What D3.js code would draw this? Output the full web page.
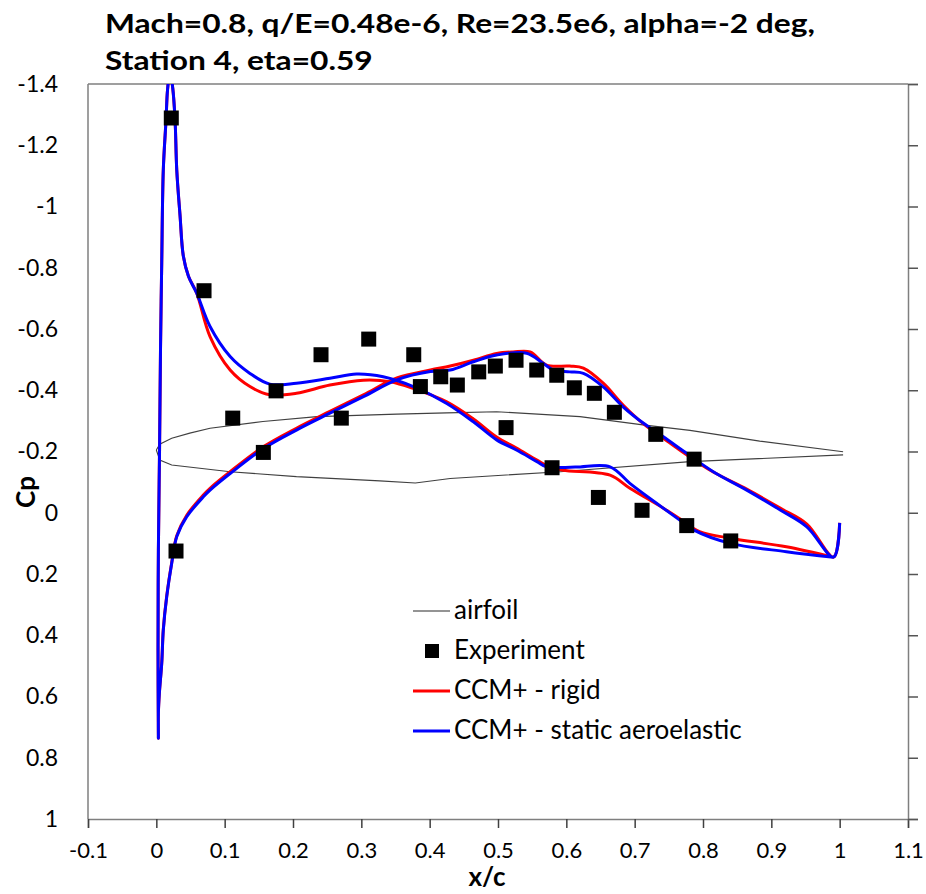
<!DOCTYPE html>
<html>
<head>
<meta charset="utf-8">
<script src="https://cdn.jsdelivr.net/npm/d3@7"></script>
<style>
  html, body { margin: 0; padding: 0; background: #fff; }
  svg { display: block; }
  text { font-family: Lato, "Open Sans", sans-serif; fill: #000; }
</style>
</head>
<body>
<svg id="chart" width="926" height="894"></svg>
<script>
// ---------- DATA ----------
const titleLines = ["Mach=0.8, q/E=0.48e-6, Re=23.5e6, alpha=-2 deg,", "Station 4, eta=0.59"];
const xTicks = [-0.1, 0, 0.1, 0.2, 0.3, 0.4, 0.5, 0.6, 0.7, 0.8, 0.9, 1, 1.1];
const xTickLabels = ["-0.1", "0", "0.1", "0.2", "0.3", "0.4", "0.5", "0.6", "0.7", "0.8", "0.9", "1", "1.1"];
const yTicks = [-1.4, -1.2, -1, -0.8, -0.6, -0.4, -0.2, 0, 0.2, 0.4, 0.6, 0.8, 1];
const yTickLabels = ["-1.4", "-1.2", "-1", "-0.8", "-0.6", "-0.4", "-0.2", "0", "0.2", "0.4", "0.6", "0.8", "1"];
const xLabel = "x/c";
const yLabel = "Cp";
const legendLabels = ["airfoil", "Experiment", "CCM+ - rigid", "CCM+ - static aeroelastic"];

// airfoil geometry (plotted on Cp axis)
const airfoilUpperX = [0, 0.005, 0.0225, 0.049, 0.0786, 0.156, 0.235, 0.352, 0.425, 0.498, 0.620, 0.712, 0.781, 0.883, 1.005];
const airfoilUpperCp = [-0.205, -0.224, -0.243, -0.260, -0.276, -0.298, -0.314, -0.322, -0.326, -0.330, -0.314, -0.287, -0.269, -0.234, -0.199];
const airfoilLowerX = [0, 0.005, 0.0225, 0.108, 0.205, 0.327, 0.379, 0.430, 0.591, 0.781, 1.005];
const airfoilLowerCp = [-0.205, -0.172, -0.156, -0.134, -0.118, -0.104, -0.097, -0.112, -0.134, -0.167, -0.189];

// experiment
const expX = [0.0219, 0.0698, 0.1118, 0.0288, 0.1566, 0.1752, 0.241, 0.2707, 0.3108, 0.3767, 0.3864, 0.4162, 0.4405, 0.4718, 0.4961, 0.5118, 0.5264, 0.5567, 0.586, 0.6117, 0.641, 0.6703, 0.5791, 0.6469, 0.7309, 0.7108, 0.787, 0.7762, 0.8406];
const expCp = [-1.289, -0.725, -0.309, 0.125, -0.197, -0.398, -0.516, -0.309, -0.567, -0.516, -0.412, -0.444, -0.417, -0.460, -0.479, -0.278, -0.498, -0.466, -0.449, -0.408, -0.390, -0.328, -0.147, -0.050, -0.256, -0.008, -0.175, 0.042, 0.092];

// CCM+ static aeroelastic : pressure side (TE -> LE), then suction side (LE -> TE)
const aeroPressX = [1.0, 0.991, 0.952, 0.913, 0.864, 0.815, 0.776, 0.742, 0.713, 0.683, 0.654, 0.625, 0.605, 0.581, 0.566, 0.542, 0.498, 0.464, 0.430, 0.401, 0.352, 0.303, 0.254, 0.205, 0.157, 0.108, 0.0786, 0.0688, 0.0445, 0.0299, 0.0225, 0.0152, 0.0102, 0.0079, 0.0044, 0.003, 0.003];
const aeroPressCp = [0.033, 0.145, 0.046, -0.009, -0.074, -0.134, -0.194, -0.248, -0.292, -0.346, -0.411, -0.455, -0.460, -0.466, -0.488, -0.521, -0.515, -0.493, -0.466, -0.461, -0.434, -0.379, -0.325, -0.270, -0.210, -0.128, -0.074, -0.052, 0.013, 0.078, 0.165, 0.274, 0.383, 0.492, 0.590, 0.654, 0.736];
const aeroSuctX = [0.0025, 0.003, 0.0047, 0.0061, 0.0079, 0.0102, 0.0142, 0.0164, 0.020, 0.024, 0.0274, 0.0299, 0.0347, 0.0395, 0.047, 0.0591, 0.0786, 0.108, 0.137, 0.166, 0.205, 0.254, 0.293, 0.332, 0.376, 0.425, 0.464, 0.498, 0.527, 0.557, 0.571, 0.613, 0.664, 0.693, 0.732, 0.766, 0.786, 0.840, 0.922, 0.991];
const aeroSuctCp = [0.448, 0.122, -0.205, -0.532, -0.816, -1.120, -1.283, -1.381, -1.439, -1.387, -1.283, -1.119, -0.970, -0.838, -0.772, -0.717, -0.608, -0.510, -0.455, -0.420, -0.423, -0.439, -0.453, -0.444, -0.412, -0.357, -0.297, -0.238, -0.205, -0.167, -0.150, -0.149, -0.150, -0.096, -0.031, 0.024, 0.056, 0.100, 0.127, 0.145];

// CCM+ rigid
const rigidPressX = [1.0, 0.991, 0.952, 0.913, 0.864, 0.815, 0.776, 0.742, 0.713, 0.683, 0.654, 0.625, 0.605, 0.571, 0.547, 0.522, 0.498, 0.464, 0.430, 0.401, 0.352, 0.303, 0.254, 0.205, 0.157, 0.108, 0.0786, 0.0688, 0.0445, 0.0299, 0.0225, 0.0152, 0.0102, 0.0079, 0.0044, 0.003, 0.003];
const rigidPressCp = [0.033, 0.145, 0.037, -0.015, -0.077, -0.133, -0.189, -0.243, -0.290, -0.352, -0.423, -0.472, -0.479, -0.482, -0.525, -0.525, -0.520, -0.498, -0.479, -0.466, -0.440, -0.385, -0.331, -0.276, -0.216, -0.134, -0.080, -0.058, 0.008, 0.075, 0.163, 0.272, 0.381, 0.490, 0.590, 0.654, 0.736];
const rigidSuctX = [0.0025, 0.003, 0.0047, 0.0061, 0.0079, 0.0102, 0.0142, 0.0164, 0.020, 0.024, 0.0274, 0.0299, 0.0347, 0.0395, 0.047, 0.0591, 0.0786, 0.108, 0.137, 0.166, 0.205, 0.254, 0.303, 0.342, 0.376, 0.425, 0.464, 0.498, 0.527, 0.557, 0.576, 0.595, 0.664, 0.693, 0.742, 0.766, 0.795, 0.840, 0.922, 0.991];
const rigidSuctCp = [0.448, 0.122, -0.205, -0.532, -0.816, -1.120, -1.283, -1.381, -1.439, -1.387, -1.283, -1.119, -0.970, -0.838, -0.772, -0.717, -0.575, -0.466, -0.412, -0.385, -0.390, -0.417, -0.433, -0.428, -0.406, -0.362, -0.306, -0.247, -0.211, -0.172, -0.149, -0.139, -0.123, -0.080, -0.015, 0.020, 0.062, 0.083, 0.111, 0.145];

// ---------- CHART ----------
const svg = d3.select("#chart");
const L = 88, R = 908, T = 84, B = 819;
const x = d3.scaleLinear().domain([-0.1, 1.1]).range([L, R]);
const y = d3.scaleLinear().domain([-1.4, 1]).range([T, B]);
const axisColor = "#7f7f7f";

const zip = (xs, ys) => xs.map((v, i) => [v, ys[i]]);

svg.append("defs").append("clipPath").attr("id", "plotclip")
  .append("rect").attr("x", L).attr("y", T).attr("width", R - L).attr("height", B - T);

// title (horizontally fitted to the reference's width)
const titleG = svg.append("g");
const tNodes = titleG.selectAll("text").data(titleLines).join("text")
  .attr("font-size", 26).attr("font-weight", "bold")
  .text(d => d);
const firstLen = tNodes.nodes()[0].getComputedTextLength();
const sx = 710 / firstLen;
tNodes.attr("transform", (d, i) => `translate(105,${33 + i * 37}) scale(${sx},1)`);

// frame lines
svg.append("line").attr("x1", L).attr("x2", L).attr("y1", T).attr("y2", B)
  .attr("stroke", axisColor).attr("stroke-width", 1.5);
svg.append("line").attr("x1", L).attr("x2", R).attr("y1", T).attr("y2", T)
  .attr("stroke", axisColor).attr("stroke-width", 1.5);

// bottom axis
const gx = svg.append("g").attr("transform", `translate(0,${B})`)
  .call(d3.axisBottom(x).tickValues(xTicks).tickSize(9).tickPadding(14)
    .tickFormat((d, i) => xTickLabels[i]));
gx.select(".domain").attr("stroke", axisColor).attr("stroke-width", 1.5);
gx.selectAll(".tick line").attr("stroke", "#404040").attr("stroke-width", 1.5);
gx.selectAll(".tick text").attr("font-size", 22).attr("font-family", "Lato").attr("fill", "#000");

// left axis (labels only)
const gy = svg.append("g").attr("transform", `translate(${L},0)`)
  .call(d3.axisLeft(y).tickValues(yTicks).tickSize(0).tickPadding(30)
    .tickFormat((d, i) => yTickLabels[i]));
gy.select(".domain").remove();
gy.selectAll(".tick text").attr("font-size", 23).attr("font-family", "Lato").attr("fill", "#000");

// right axis (ticks only)
const gr = svg.append("g").attr("transform", `translate(${R},0)`)
  .call(d3.axisRight(y).tickValues(yTicks).tickSize(10).tickFormat(""));
gr.select(".domain").attr("stroke", axisColor).attr("stroke-width", 1.5);
gr.selectAll(".tick line").attr("stroke", "#555").attr("stroke-width", 1.5);

// axis titles
svg.append("text").attr("x", (L + R) / 2 - 11).attr("y", 886)
  .attr("text-anchor", "middle").attr("font-size", 26).attr("font-weight", "bold").text(xLabel);
svg.append("text").attr("transform", `translate(35,492) rotate(-90)`)
  .attr("text-anchor", "middle").attr("font-size", 26).attr("font-weight", "bold").text(yLabel);

const plot = svg.append("g").attr("clip-path", "url(#plotclip)");
const lineLin = d3.line().x(d => x(d[0])).y(d => y(d[1]));
const lineSmooth = d3.line().x(d => x(d[0])).y(d => y(d[1])).curve(d3.curveCatmullRom.alpha(0.5));

// airfoil
plot.append("path").datum(zip(airfoilUpperX, airfoilUpperCp)).attr("d", lineLin)
  .attr("fill", "none").attr("stroke", "#404040").attr("stroke-width", 1.1);
plot.append("path").datum(zip(airfoilLowerX, airfoilLowerCp)).attr("d", lineLin)
  .attr("fill", "none").attr("stroke", "#404040").attr("stroke-width", 1.1);

// CFD
const rigid = zip(rigidPressX, rigidPressCp).concat(zip(rigidSuctX, rigidSuctCp));
const aero = zip(aeroPressX, aeroPressCp).concat(zip(aeroSuctX, aeroSuctCp));
plot.append("path").datum(rigid).attr("d", lineSmooth)
  .attr("fill", "none").attr("stroke", "#ff0000").attr("stroke-width", 3).attr("stroke-linejoin", "round");
plot.append("path").datum(aero).attr("d", lineSmooth)
  .attr("fill", "none").attr("stroke", "#0000ff").attr("stroke-width", 3).attr("stroke-linejoin", "round");

// experiment squares
const sq = 15;
svg.append("g").selectAll("rect").data(zip(expX, expCp)).join("rect")
  .attr("x", d => x(d[0]) - sq / 2).attr("y", d => y(d[1]) - sq / 2)
  .attr("width", sq).attr("height", sq).attr("fill", "#000");

// legend
const lg = svg.append("g");
const rows = [610, 650, 690, 730];
lg.append("line").attr("x1", 413).attr("x2", 450).attr("y1", rows[0] + 1).attr("y2", rows[0] + 1)
  .attr("stroke", "#707070").attr("stroke-width", 1.5);
lg.append("rect").attr("x", 432 - 7).attr("y", rows[1] - 6).attr("width", 14).attr("height", 14).attr("fill", "#000");
lg.append("line").attr("x1", 413).attr("x2", 450).attr("y1", rows[2] + 1).attr("y2", rows[2] + 1)
  .attr("stroke", "#ff0000").attr("stroke-width", 3);
lg.append("line").attr("x1", 413).attr("x2", 450).attr("y1", rows[3] + 1).attr("y2", rows[3] + 1)
  .attr("stroke", "#0000ff").attr("stroke-width", 3);
lg.selectAll("text.leg").data(legendLabels).join("text").attr("class", "leg")
  .attr("x", 454).attr("y", (d, i) => rows[i]).attr("dy", "0.35em")
  .attr("font-size", 26).text(d => d);
</script>
</body>
</html>
